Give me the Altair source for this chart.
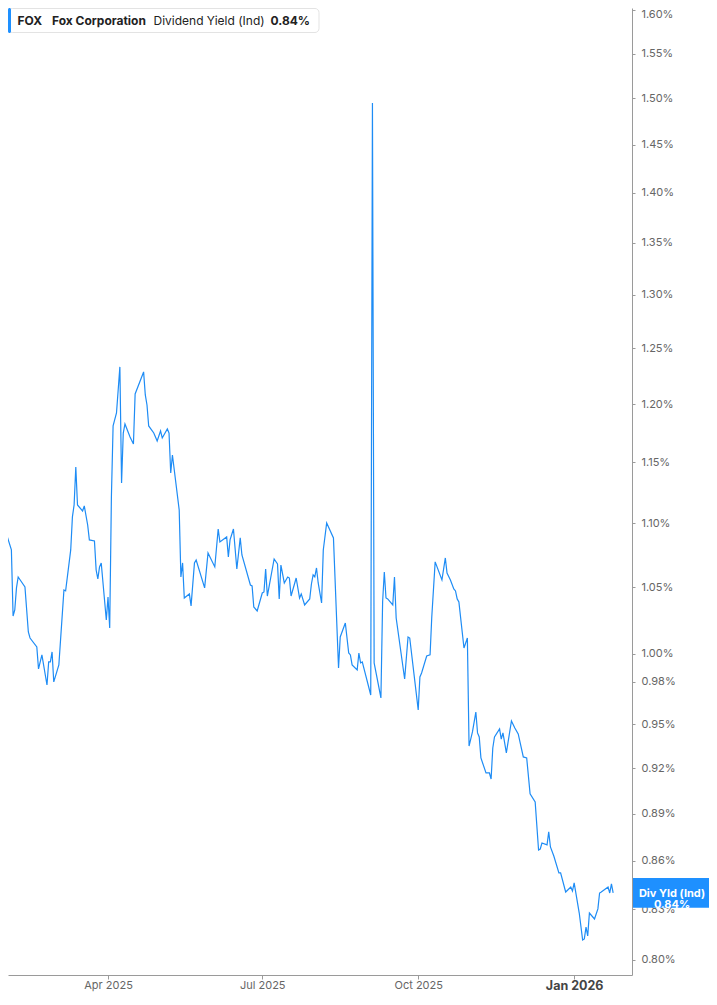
import altair as alt
import pandas as pd

# ---------------- data ----------------
dates = [
    "2025-01-27", "2025-01-28", "2025-01-29", "2025-01-30", "2025-02-03", "2025-02-04", "2025-02-05",
    "2025-02-06", "2025-02-07", "2025-02-11", "2025-02-13", "2025-02-14", "2025-02-18", "2025-02-19",
    "2025-02-21", "2025-02-24", "2025-02-25", "2025-02-26", "2025-02-27", "2025-02-28", "2025-03-03",
    "2025-03-04", "2025-03-06", "2025-03-07", "2025-03-10", "2025-03-11", "2025-03-12", "2025-03-13",
    "2025-03-14", "2025-03-17", "2025-03-18", "2025-03-20", "2025-03-21", "2025-03-24", "2025-03-25",
    "2025-03-26", "2025-03-27", "2025-03-28", "2025-03-31", "2025-04-01", "2025-04-02", "2025-04-03",
    "2025-04-04", "2025-04-06", "2025-04-07", "2025-04-08", "2025-04-09", "2025-04-10", "2025-04-11",
    "2025-04-14", "2025-04-16", "2025-04-17", "2025-04-22", "2025-04-23", "2025-04-24", "2025-04-25",
    "2025-04-28", "2025-04-29", "2025-04-30", "2025-05-02", "2025-05-03", "2025-05-06", "2025-05-07",
    "2025-05-08", "2025-05-09", "2025-05-13", "2025-05-14", "2025-05-15", "2025-05-16", "2025-05-19",
    "2025-05-20", "2025-05-22", "2025-05-23", "2025-05-28", "2025-05-30", "2025-06-03", "2025-06-05",
    "2025-06-06", "2025-06-10", "2025-06-11", "2025-06-12", "2025-06-14", "2025-06-16", "2025-06-18",
    "2025-06-19", "2025-06-24", "2025-06-25", "2025-06-26", "2025-06-28", "2025-07-01", "2025-07-02",
    "2025-07-03", "2025-07-04", "2025-07-08", "2025-07-10", "2025-07-11", "2025-07-12", "2025-07-14",
    "2025-07-16", "2025-07-17", "2025-07-18", "2025-07-21", "2025-07-23", "2025-07-24", "2025-07-26",
    "2025-07-29", "2025-07-30", "2025-07-31", "2025-08-01", "2025-08-02", "2025-08-03", "2025-08-05",
    "2025-08-06", "2025-08-08", "2025-08-12", "2025-08-15", "2025-08-16", "2025-08-19", "2025-08-21",
    "2025-08-22", "2025-08-23", "2025-08-26", "2025-08-27", "2025-08-28", "2025-08-29", "2025-09-03",
    "2025-09-04", "2025-09-05", "2025-09-09", "2025-09-10", "2025-09-11", "2025-09-12", "2025-09-13",
    "2025-09-16", "2025-09-17", "2025-09-18", "2025-09-23", "2025-09-25", "2025-09-26", "2025-10-01",
    "2025-10-02", "2025-10-03", "2025-10-06", "2025-10-08", "2025-10-09", "2025-10-11", "2025-10-15",
    "2025-10-17", "2025-10-18", "2025-10-20", "2025-10-22", "2025-10-23", "2025-10-24", "2025-10-25",
    "2025-10-28", "2025-10-30", "2025-10-31", "2025-11-02", "2025-11-04", "2025-11-05", "2025-11-06",
    "2025-11-07", "2025-11-10", "2025-11-12", "2025-11-13", "2025-11-14", "2025-11-15", "2025-11-18",
    "2025-11-19", "2025-11-20", "2025-11-22", "2025-11-25", "2025-11-27", "2025-11-29", "2025-12-02",
    "2025-12-04", "2025-12-06", "2025-12-09", "2025-12-11", "2025-12-12", "2025-12-13", "2025-12-16",
    "2025-12-17", "2025-12-18", "2025-12-20", "2025-12-23", "2025-12-24", "2025-12-27", "2025-12-30",
    "2025-12-31", "2026-01-01", "2026-01-04", "2026-01-06", "2026-01-07", "2026-01-08", "2026-01-09",
    "2026-01-10", "2026-01-13", "2026-01-15", "2026-01-16", "2026-01-17", "2026-01-21", "2026-01-22",
    "2026-01-23", "2026-01-24",
]

div_yield = [
    1.1125, 1.1133, 1.1108, 1.0963, 1.0789, 1.0281, 1.0326,
    1.0494, 1.0578, 1.0501, 1.0162, 1.0117, 1.0051, 0.9891,
    0.9993, 0.9776, 0.9942, 0.9942, 1.0015, 0.9798, 0.9920,
    1.0103, 1.0478, 1.0471, 1.0789, 1.1052, 1.1149, 1.1463,
    1.1149, 1.1100, 1.1141, 1.0987, 1.0868, 1.0860, 1.0632,
    1.0563, 1.0656, 1.0687, 1.0251, 1.0425, 1.0192, 1.1214,
    1.1811, 1.1923, 1.2125, 1.2331, 1.1329, 1.1750, 1.1828,
    1.1716, 1.1657, 1.2090, 1.2286, 1.2081, 1.1993, 1.1811,
    1.1750, 1.1716, 1.1682, 1.1768, 1.1708, 1.1785, 1.1750,
    1.1412, 1.1563, 1.1108, 1.0578, 1.0687, 1.0417, 1.0448,
    1.0357, 1.0687, 1.0710, 1.0494, 1.0765, 1.0656, 1.0955,
    1.0852, 1.0892, 1.0734, 1.0868, 1.0955, 1.0640, 1.0884,
    1.0749, 1.0516, 1.0509, 1.0349, 1.0319, 1.0455, 1.0463,
    1.0640, 1.0432, 1.0718, 1.0679, 1.0410, 1.0671, 1.0532,
    1.0578, 1.0570, 1.0432, 1.0570, 1.0417, 1.0448, 1.0364,
    1.0410, 1.0524, 1.0594, 1.0578, 1.0648, 1.0532, 1.0379,
    1.0789, 1.1003, 1.0884, 0.9898, 1.0125, 1.0229, 1.0007,
    0.9993, 0.9920, 0.9884, 1.0007, 0.9935, 0.9942, 0.9705,
    1.4951, 0.9935, 0.9684, 1.0387, 1.0617, 1.0417, 1.0410,
    1.0364, 1.0578, 1.0266, 0.9819, 1.0125, 1.0117, 0.9600,
    0.9834, 0.9862, 0.9985, 0.9993, 1.0274, 1.0695, 1.0555,
    1.0726, 1.0609, 1.0555, 1.0486, 1.0471, 1.0410, 1.0387,
    1.0044, 1.0117, 0.9350, 0.9447, 0.9585, 0.9440, 0.9412,
    0.9269, 0.9168, 0.9168, 0.9128, 0.9337, 0.9412, 0.9467,
    0.9398, 0.9440, 0.9303, 0.9523, 0.9474, 0.9433, 0.9276,
    0.9269, 0.9029, 0.8976, 0.8667, 0.8673, 0.8711, 0.8699,
    0.8782, 0.8686, 0.8629, 0.8523, 0.8523, 0.8405, 0.8436,
    0.8411, 0.8461, 0.8277, 0.8116, 0.8122, 0.8193, 0.8140,
    0.8277, 0.8241, 0.8302, 0.8399, 0.8405, 0.8436, 0.8399,
    0.8455, 0.8400,
]

y_tick_values = [0.80, 0.83, 0.86, 0.89, 0.92, 0.95, 0.98, 1.00, 1.05, 1.10, 1.15,
                 1.20, 1.25, 1.30, 1.35, 1.40, 1.45, 1.50, 1.55, 1.60]
x_tick_months = [(2025, 4), (2025, 7), (2025, 10), (2026, 1)]

ticker = "FOX"
company = "Fox Corporation"
metric = "Dividend Yield (Ind)"
last_text = "0.84%"
tag_text = "Div Yld (Ind)\n0.84%"

# ---------------- styling ----------------
BLUE = "#1e8cf5"
TAG_BLUE = "#1e90ff"
AXIS_GRAY = "#9a9a9a"
LABEL_GRAY = "#666666"
FONT = "Inter"

df = pd.DataFrame({"date": dates, "value": div_yield})
last_df = df.iloc[[-1]]
one = pd.DataFrame({"k": [0]})

x_scale = alt.Scale(
    type="utc",
    domain=[alt.DateTime(year=2025, month=2, date=1, utc=True),
            alt.DateTime(year=2026, month=2, date=4, hours=3, utc=True)],
)
y_scale = alt.Scale(type="log", domain=[0.7911, 1.6024], nice=False, zero=False)

jan = "utcmonth(datum.value) == 0"
x_enc = alt.X(
    "date:T",
    scale=x_scale,
    title=None,
    axis=alt.Axis(
        values=[alt.DateTime(year=y, month=m, date=1, utc=True) for y, m in x_tick_months],
        labelExpr="utcFormat(datum.value, '%b %Y')",
        grid=False,
        domainColor=AXIS_GRAY,
        tickColor=AXIS_GRAY,
        tickSize=4,
        labelPadding=0,
        labelFont=FONT,
        labelFontSize={"condition": {"test": jan, "value": 12.5}, "value": 11},
        labelFontWeight={"condition": {"test": jan, "value": "bold"}, "value": "normal"},
        labelColor={"condition": {"test": jan, "value": "#444444"}, "value": LABEL_GRAY},
        zindex=0,
    ),
)
y_enc = alt.Y(
    "value:Q",
    scale=y_scale,
    title=None,
    axis=alt.Axis(
        orient="right",
        values=y_tick_values,
        labelExpr="format(datum.value, '.2f') + '%'",
        grid=False,
        domainColor=AXIS_GRAY,
        tickColor=AXIS_GRAY,
        tickSize=3,
        labelPadding=6,
        labelFont=FONT,
        labelFontSize=11,
        labelColor=LABEL_GRAY,
        labelOffset={"condition": {"test": "datum.value >= 1.599", "value": 4}, "value": 0},
        zindex=0,
    ),
)

line = alt.Chart(df).mark_line(color=BLUE, strokeWidth=1.2, clip=True).encode(x=x_enc, y=y_enc)

tag = alt.Chart(last_df).mark_point(
    shape="M-1,-0.39L1,-0.39L1,0.39L-1,0.39Z",
    size=5776, filled=True, opacity=1, color=TAG_BLUE, strokeWidth=0,
).encode(x=alt.value(663), y=alt.Y("value:Q"))

tag_label = alt.Chart(last_df).mark_text(
    font=FONT, fontSize=11, fontWeight="bold", color="white",
    lineBreak="\n", lineHeight=11, baseline="middle", align="center", dy=1,
).encode(x=alt.value(664), y=alt.Y("value:Q"), text=alt.value(tag_text))

box = alt.Chart(one).mark_rect(
    fill="white", stroke="#e3e3e3", strokeWidth=1, cornerRadius=4
).encode(x=alt.value(0.5), x2=alt.value(311), y=alt.value(0.5), y2=alt.value(24.5))

bar = alt.Chart(one).mark_rect(fill=TAG_BLUE, cornerRadius=1.5).encode(
    x=alt.value(0), x2=alt.value(3), y=alt.value(0), y2=alt.value(25)
)


def head_text(txt, xpos, weight):
    return alt.Chart(one).mark_text(
        font=FONT, fontSize=12, fontWeight=weight, color="#222222",
        align="left", baseline="middle",
    ).encode(x=alt.value(xpos), y=alt.value(12.5), text=alt.value(txt))


header = [
    head_text(ticker, 9.5, "bold"),
    head_text(company, 44, "bold"),
    head_text(metric, 145.5, "normal"),
    head_text(last_text, 262.5, "bold"),
]

chart = alt.layer(line, tag, tag_label, box, bar, *header).properties(
    width=624,
    height=967,
    autosize=alt.AutoSizeParams(type="none"),
    padding={"left": 0, "top": 0, "right": 77, "bottom": 17},
    background="white",
).configure_view(stroke=None)

chart.save("out.html", embed_options={"renderer": "svg", "actions": False})
